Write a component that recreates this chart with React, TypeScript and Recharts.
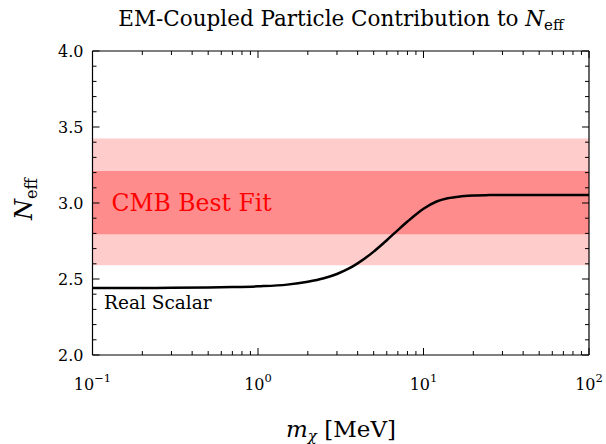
import { LineChart, Line, XAxis, YAxis, ReferenceArea } from 'recharts';

const massMeV = [0.1, 0.2, 0.3, 0.5, 0.7, 1, 1.5, 2, 2.5, 3, 3.5, 4, 5, 6, 7, 8, 9, 10, 12, 14, 17, 20, 25, 30, 40, 50, 70, 100];
const nEff = [2.44, 2.441, 2.442, 2.444, 2.447, 2.452, 2.463, 2.482, 2.505, 2.533, 2.566, 2.603, 2.68, 2.755, 2.822, 2.878, 2.925, 2.962, 3.01, 3.031, 3.044, 3.05, 3.052, 3.053, 3.053, 3.053, 3.053, 3.053];

const xMajor = [0.1, 1, 10, 100];
const xExp = ['−1', '0', '1', '2'];
const xMinor = [0.2, 0.3, 0.4, 0.5, 0.6, 0.7, 0.8, 0.9, 2, 3, 4, 5, 6, 7, 8, 9, 20, 30, 40, 50, 60, 70, 80, 90];
const yTicks = [2.0, 2.1, 2.2, 2.3, 2.4, 2.5, 2.6, 2.7, 2.8, 2.9, 3.0, 3.1, 3.2, 3.3, 3.4, 3.5, 3.6, 3.7, 3.8, 3.9, 4.0];
const yMajor = [2.0, 2.5, 3.0, 3.5, 4.0];

// CMB bands (outer / inner)
const band2 = [2.59, 3.425];
const band1 = [2.795, 3.21];

const data = massMeV.map((m, i) => ({ m, n: nEff[i] }));
const xTicks = [...xMajor, ...xMinor];

const FONT = '"DejaVu Serif", serif';
const isMajorY = (v: number) => yMajor.some((t) => Math.abs(t - v) < 1e-6);

function BottomTick(props: any) {
  const { x, y, payload } = props;
  const idx = xMajor.indexOf(payload.value);
  const major = idx >= 0;
  return (
    <g>
      <line x1={x} x2={x} y1={y} y2={y - (major ? 7 : 4)} stroke="#000" strokeWidth={1} />
      {major && (
        <text x={x} y={y + 35} textAnchor="middle" fontFamily={FONT} fontSize={16} fill="#000">
          <tspan>10</tspan>
          <tspan dy={-8} fontSize={11.5}>{xExp[idx]}</tspan>
        </text>
      )}
    </g>
  );
}

function TopTick(props: any) {
  const { x, y, payload } = props;
  const major = xMajor.includes(payload.value);
  return <line x1={x} x2={x} y1={y} y2={y + (major ? 7 : 4)} stroke="#000" strokeWidth={1} />;
}

function LeftTick(props: any) {
  const { x, y, payload } = props;
  const major = isMajorY(payload.value);
  return (
    <g>
      <line x1={x} x2={x + (major ? 7 : 4)} y1={y} y2={y} stroke="#000" strokeWidth={1} />
      {major && (
        <text x={x - 9} y={y} dy={6} textAnchor="end" fontFamily={FONT} fontSize={16} fill="#000">
          {payload.value.toFixed(1)}
        </text>
      )}
    </g>
  );
}

function RightTick(props: any) {
  const { x, y, payload } = props;
  const major = isMajorY(payload.value);
  return <line x1={x} x2={x - (major ? 7 : 4)} y1={y} y2={y} stroke="#000" strokeWidth={1} />;
}

const axisLine = { stroke: '#000', strokeWidth: 1.2 };

export default function App() {
  return (
    <div style={{ position: 'absolute', left: 0, top: 0, width: 606, height: 444, background: '#fff' }}>
      <LineChart width={606} height={444} data={data} margin={{ top: 50, right: 16, bottom: 0, left: 0 }}>
        <XAxis
          xAxisId="b"
          dataKey="m"
          type="number"
          scale="log"
          domain={[0.1, 100]}
          allowDataOverflow
          ticks={xTicks}
          interval={0}
          tickSize={0}
          tickMargin={0}
          tickLine={false}
          tick={<BottomTick />}
          height={89}
          axisLine={axisLine}
        />
        <XAxis
          xAxisId="t"
          orientation="top"
          dataKey="m"
          type="number"
          scale="log"
          domain={[0.1, 100]}
          allowDataOverflow
          ticks={xTicks}
          interval={0}
          tickSize={0}
          tickMargin={0}
          tickLine={false}
          tick={<TopTick />}
          height={1}
          axisLine={axisLine}
        />
        <YAxis
          yAxisId="l"
          type="number"
          domain={[2, 4]}
          allowDataOverflow
          ticks={yTicks}
          interval={0}
          tickSize={0}
          tickMargin={0}
          tickLine={false}
          tick={<LeftTick />}
          width={92.5}
          axisLine={axisLine}
        />
        <YAxis
          yAxisId="r"
          orientation="right"
          type="number"
          domain={[2, 4]}
          allowDataOverflow
          ticks={yTicks}
          interval={0}
          tickSize={0}
          tickMargin={0}
          tickLine={false}
          tick={<RightTick />}
          width={1}
          axisLine={axisLine}
        />
        <ReferenceArea xAxisId="b" yAxisId="l" y1={band2[0]} y2={band2[1]} fill="#ffcccc" fillOpacity={1} stroke="none" />
        <ReferenceArea
          xAxisId="b"
          yAxisId="l"
          y1={band1[0]}
          y2={band1[1]}
          fill="#ff8c8c"
          fillOpacity={1}
          stroke="none"
          label={{ value: 'CMB Best Fit', position: 'insideLeft', offset: 19, fill: '#ff0000', fontSize: 23.5, fontFamily: FONT }}
        />
        <Line
          xAxisId="b"
          yAxisId="l"
          dataKey="n"
          type="monotone"
          stroke="#000"
          strokeWidth={2.5}
          dot={false}
          isAnimationActive={false}
        />
      </LineChart>
      <svg width={606} height={444} style={{ position: 'absolute', left: 0, top: 0, pointerEvents: 'none' }} fontFamily={FONT}>
        <text x={341} y={26} textAnchor="middle" fontSize={21.5} fill="#000">
          EM-Coupled Particle Contribution to <tspan fontStyle="italic">N</tspan>
          <tspan dy={4} fontSize={15}>eff</tspan>
        </text>
        <text x={104} y={309} fontSize={18.5} fill="#000">
          Real Scalar
        </text>
        <text x={341} y={437} textAnchor="middle" fontSize={23} fill="#000">
          <tspan fontStyle="italic">m</tspan>
          <tspan dy={4} fontSize={15} fontStyle="italic">χ</tspan>
          <tspan dy={-4}>{'  [MeV]'}</tspan>
        </text>
        <text x={32} y={199} textAnchor="middle" fontSize={24} fill="#000" transform="rotate(-90 32 199)">
          <tspan fontStyle="italic">N</tspan>
          <tspan dy={5} fontSize={16}>eff</tspan>
        </text>
      </svg>
    </div>
  );
}
